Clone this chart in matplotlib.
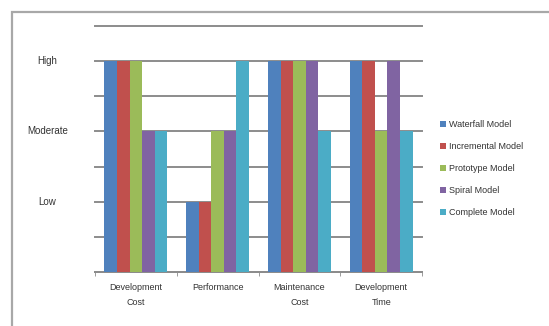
import numpy as np
import matplotlib.pyplot as plt
from matplotlib.patches import Rectangle

plt.rcParams["font.family"] = ["Liberation Sans", "DejaVu Sans"]

# 資料
categories = ["Development\nCost", "Performance", "Maintenance\nCost", "Development\nTime"]
models = ["Waterfall Model", "Incremental Model", "Prototype Model", "Spiral Model", "Complete Model"]
waterfall = [6, 2, 6, 6]
incremental = [6, 2, 6, 6]
prototype = [6, 4, 6, 4]
spiral = [4, 4, 6, 6]
complete = [4, 6, 4, 4]
level_pos = [2, 4, 6]
level_names = ["Low", "Moderate", "High"]

series = [waterfall, incremental, prototype, spiral, complete]
colors = ["#4F81BD", "#C0504D", "#9BBB59", "#8064A2", "#4BACC6"]

fig = plt.figure(figsize=(5.49, 3.26), dpi=100)
ax = fig.add_axes([95/549, 1-272/326, (422-95)/549, (272-26)/326])

# 外框
fig.patches.append(Rectangle((12/549, -0.2), 1.2, 1.2 - 12/326,
                             transform=fig.transFigure, fill=False,
                             edgecolor="#a8a8a8", linewidth=1.6))

x = np.arange(len(categories))
width = 1 / 6.5
for i, (vals, name) in enumerate(zip(series, models)):
    ax.bar(x + (i - 2) * width, vals, width, color=colors[i], label=name, zorder=3)

ax.set_xlim(-0.5, len(categories) - 0.5)
ax.set_ylim(0, 7)
ax.set_yticks(np.arange(0, 8))
ax.set_yticklabels([])
ax.yaxis.grid(True, color="#8c8c8c", linewidth=1.4, zorder=0)
for gl in ax.get_ygridlines():
    gl.set_clip_on(False)
ax.tick_params(axis="y", length=0)

ax.set_xticks(x)
ax.set_xticklabels(categories, fontsize=6.5, color="#333333", linespacing=1.8)
ax.tick_params(axis="x", length=0, pad=8)
ax.set_xticks(np.arange(-0.5, len(categories)), minor=True)
ax.tick_params(axis="x", which="minor", length=3, color="#8c8c8c")

for s in ["top", "right", "left"]:
    ax.spines[s].set_visible(False)
ax.spines["bottom"].set_color("#8c8c8c")
ax.spines["bottom"].set_linewidth(1.4)

for yv, name in zip(level_pos, level_names):
    ax.text(-0.145, yv, name, fontsize=7, color="#333333",
            ha="center", va="center", transform=ax.get_yaxis_transform())

ax.legend(loc="center left", bbox_to_anchor=(1.03, 0.42), frameon=False,
          fontsize=6.5, handlelength=0.7, handleheight=0.7, handletextpad=0.3,
          labelspacing=1.45, labelcolor="#333333")

fig.savefig("out.png", dpi=100)
